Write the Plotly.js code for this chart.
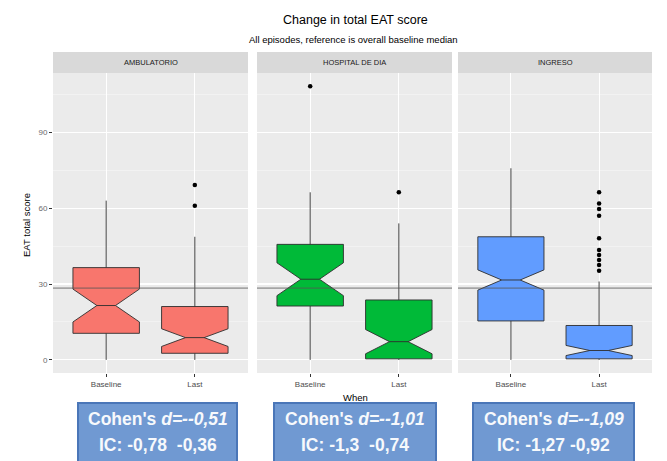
<!DOCTYPE html>
<html>
<head>
<meta charset="utf-8">
<script src="https://cdn.plot.ly/plotly-3.0.1.min.js"></script>
<style>html,body{margin:0;padding:0;background:#fff;}#chart{width:667px;height:461px;}</style>
</head>
<body>
<div id="chart"></div>
<script>
// ---- data ----
const categories = ['Baseline', 'Last'];
const panelNames = ['AMBULATORIO', 'HOSPITAL DE DIA', 'INGRESO'];

// AMBULATORIO
const ambQ1 = [10.5, 2.6];
const ambMedian = [21.5, 8.8];
const ambQ3 = [36.5, 21.1];
const ambLow = [0, 0];
const ambHigh = [63, 48.7];
const ambNotch = [6.5, 3.5];
const ambOutX = ['Last', 'Last'];
const ambOutY = [69.2, 61];

// HOSPITAL DE DIA
const hdQ1 = [21.3, 0.4];
const hdMedian = [31.9, 7.2];
const hdQ3 = [45.7, 23.7];
const hdLow = [0, 0];
const hdHigh = [66.3, 54];
const hdNotch = [6.5, 4.8];
const hdOutX = ['Baseline', 'Last'];
const hdOutY = [108.3, 66.3];

// INGRESO
const ingQ1 = [15.4, 0.4];
const ingMedian = [31.6, 3.7];
const ingQ3 = [48.7, 13.6];
const ingLow = [0, 0];
const ingHigh = [75.8, 31];
const ingNotch = [4, 2];
const ingOutX = ['Last', 'Last', 'Last', 'Last', 'Last', 'Last', 'Last', 'Last', 'Last', 'Last'];
const ingOutY = [66.3, 61.9, 59.7, 57, 48.1, 43.5, 41.5, 39.5, 37.5, 35.3];

const referenceMedian = 28.4;
const yTicks = [0, 30, 60, 90];

const cohenLine1 = ["Cohen's <i>d=--0,51</i>", "Cohen's <i>d=--1,01</i>", "Cohen's <i>d=--1,09</i>"];
const cohenLine2 = ['IC: -0,78 &nbsp;-0,36', 'IC: -1,3 &nbsp;-0,74', 'IC: -1,27 -0,92'];

// ---- layout helpers ----
const W = 667, H = 461, ML = 53, MR = 15, MT = 73, MB = 88;
const PW = W - ML - MR, PH = H - MT - MB;
const px = x => (x - ML) / PW;
const py = y => (H - MB - y) / PH;

const fills = ['#F8766D', '#00BA38', '#619CFF'];
const axes = ['x', 'x2', 'x3'];
const statSets = [
  [ambQ1, ambMedian, ambQ3, ambLow, ambHigh, ambNotch, ambOutX, ambOutY],
  [hdQ1, hdMedian, hdQ3, hdLow, hdHigh, hdNotch, hdOutX, hdOutY],
  [ingQ1, ingMedian, ingQ3, ingLow, ingHigh, ingNotch, ingOutX, ingOutY]
];

const traces = [];
statSets.forEach((s, i) => {
  traces.push({
    type: 'box', x: categories,
    q1: s[0], median: s[1], q3: s[2], lowerfence: s[3], upperfence: s[4], notchspan: s[5],
    notched: true, notchwidth: 0.36, width: 0.75, whiskerwidth: 0,
    fillcolor: fills[i], line: {color: '#2E2E2E', width: 0.9},
    boxpoints: false, xaxis: axes[i], yaxis: 'y', showlegend: false, hoverinfo: 'skip'
  });
  traces.push({
    type: 'scatter', mode: 'markers', x: s[6], y: s[7],
    marker: {color: '#000', size: 4.5}, xaxis: axes[i], yaxis: 'y',
    showlegend: false, hoverinfo: 'skip'
  });
});

const domains = [[0, px(248)], [px(257), px(452)], [px(458), 1]];
const xaxisBase = {
  type: 'category', categoryorder: 'array', categoryarray: categories,
  range: [-0.6, 1.6], showgrid: true, gridcolor: '#FFFFFF', gridwidth: 1.1,
  zeroline: false, showline: false, ticks: 'outside', ticklen: 3, tickcolor: '#333333',
  tickfont: {family: 'Liberation Sans, Arial, sans-serif', size: 8, color: '#4D4D4D'},
  anchor: 'y', fixedrange: true
};

const layout = {
  width: W, height: H,
  margin: {l: ML, r: MR, t: MT, b: MB, pad: 0},
  paper_bgcolor: '#FFFFFF', plot_bgcolor: '#EBEBEB',
  font: {family: 'Liberation Sans, Arial, sans-serif'},
  xaxis: Object.assign({}, xaxisBase, {domain: domains[0]}),
  xaxis2: Object.assign({}, xaxisBase, {domain: domains[1]}),
  xaxis3: Object.assign({}, xaxisBase, {domain: domains[2]}),
  yaxis: {
    range: [-5.2, 113.5], tickvals: yTicks, ticktext: yTicks.map(String),
    showgrid: true, gridcolor: '#FFFFFF', gridwidth: 1.1,
    minor: {dtick: 15, tick0: 15, showgrid: true, gridcolor: '#F6F6F6', gridwidth: 0.6, ticks: ''},
    zeroline: false, showline: false, ticks: 'outside', ticklen: 3, tickcolor: '#333333',
    tickfont: {family: 'Liberation Sans, Arial, sans-serif', size: 8, color: '#6B6B6B'},
    anchor: 'x', fixedrange: true
  },
  shapes: [],
  annotations: []
};

// strips
domains.forEach((d, i) => {
  layout.shapes.push({type: 'rect', xref: 'paper', yref: 'paper', x0: d[0], x1: d[1],
    y0: 1, y1: py(52), fillcolor: '#D9D9D9', line: {width: 0}, layer: 'below'});
  layout.annotations.push({xref: 'paper', yref: 'paper', x: (d[0] + d[1]) / 2, y: py(62.5),
    text: panelNames[i], showarrow: false, xanchor: 'center', yanchor: 'middle',
    font: {size: 7.5, color: '#1A1A1A'}});
  layout.shapes.push({type: 'line', xref: axes[i] + ' domain', yref: 'y', x0: 0, x1: 1,
    y0: referenceMedian, y1: referenceMedian, line: {color: '#555555', width: 0.8}, layer: 'above'});
});

// titles
layout.annotations.push({xref: 'paper', yref: 'paper', x: px(355), y: py(20), text: 'Change in total EAT score',
  showarrow: false, xanchor: 'center', yanchor: 'middle', font: {size: 12.5, color: '#000'}});
layout.annotations.push({xref: 'paper', yref: 'paper', x: px(353), y: py(40),
  text: 'All episodes, reference is overall baseline median',
  showarrow: false, xanchor: 'center', yanchor: 'middle', font: {size: 9.5, color: '#000'}});
layout.annotations.push({xref: 'paper', yref: 'paper', x: px(27), y: py(225), text: 'EAT total score',
  textangle: -90, showarrow: false, xanchor: 'center', yanchor: 'middle', font: {size: 9.5, color: '#000'}});
layout.annotations.push({xref: 'paper', yref: 'paper', x: px(355), y: py(397), text: 'When',
  showarrow: false, xanchor: 'center', yanchor: 'middle', font: {size: 9.5, color: '#000'}});

// Cohen boxes
const boxL = [77, 273, 472], boxR = [238, 437, 635];
const cohenFont = {family: 'Liberation Sans, Arial, sans-serif', size: 17.5, color: '#F7F9FC'};
boxL.forEach((l, i) => {
  const r = boxR[i];
  layout.annotations.push({xref: 'paper', yref: 'paper', x: px((l + r) / 2), y: py(401.5),
    xanchor: 'center', yanchor: 'top', text: '\u00a0', showarrow: false,
    width: r - l - 4, height: 70, borderpad: 0, bgcolor: '#7099D2', bordercolor: '#4A76B8', borderwidth: 2});
});
boxL.forEach((l, i) => {
  const c = (l + boxR[i]) / 2;
  layout.annotations.push({xref: 'paper', yref: 'paper', x: px(c), y: py(419), xanchor: 'center', yanchor: 'middle',
    text: '<b>' + cohenLine1[i] + '</b>', showarrow: false, font: cohenFont});
  layout.annotations.push({xref: 'paper', yref: 'paper', x: px(c), y: py(445), xanchor: 'center', yanchor: 'middle',
    text: '<b>' + cohenLine2[i] + '</b>', showarrow: false, font: cohenFont});
});

Plotly.newPlot('chart', traces, layout, {staticPlot: true, displayModeBar: false});
</script>
</body>
</html>
